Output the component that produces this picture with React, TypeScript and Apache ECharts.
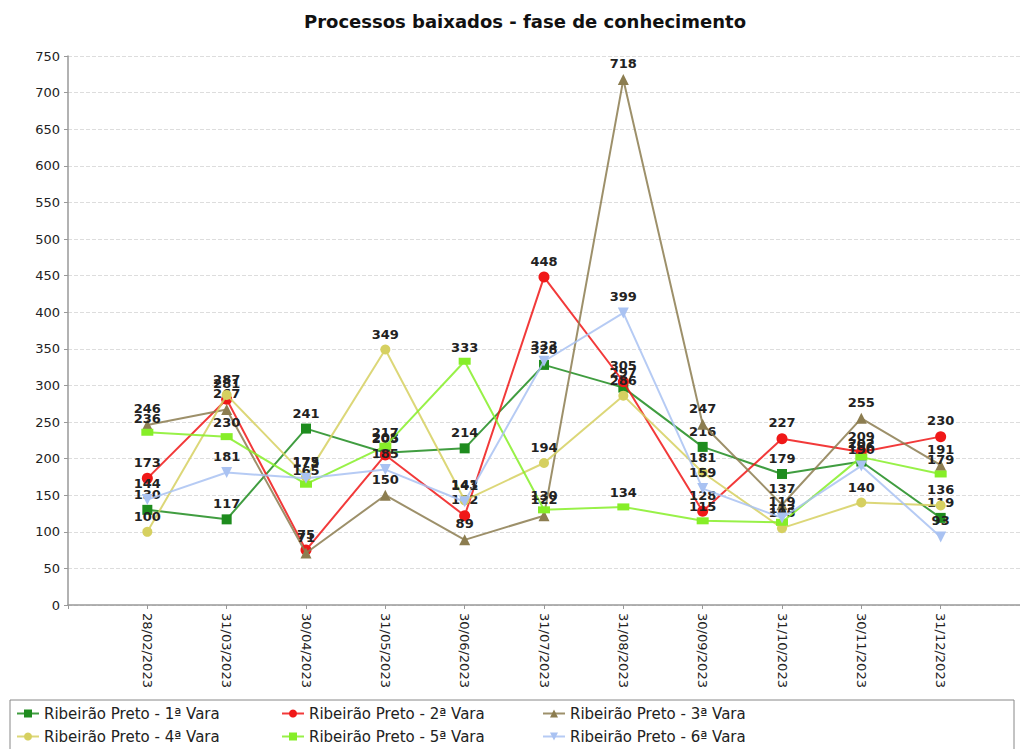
import React, { useEffect, useRef } from "react";
import * as echarts from "echarts";

const dates = ["28/02/2023", "31/03/2023", "30/04/2023", "31/05/2023", "30/06/2023", "31/07/2023", "31/08/2023", "30/09/2023", "31/10/2023", "30/11/2023", "31/12/2023"];
const vara1 = [130, 117, 241, 208, 214, 328, 297, 216, 179, 196, 119];
const vara2 = [173, 281, 75, 205, 122, 448, 305, 128, 227, 209, 230];
const vara3 = [246, 267, 71, 150, 89, 122, 718, 247, 137, 255, 191];
const vara4 = [100, 287, 175, 349, 143, 194, 286, 181, 105, 140, 136];
const vara5 = [236, 230, 165, 217, 333, 130, 134, 115, 113, 202, 179];
const vara6 = [144, 181, 173, 185, 141, 333, 399, 159, 119, 190, 93];
const names = [
  "Ribeirão Preto - 1ª Vara",
  "Ribeirão Preto - 2ª Vara",
  "Ribeirão Preto - 3ª Vara",
  "Ribeirão Preto - 4ª Vara",
  "Ribeirão Preto - 5ª Vara",
  "Ribeirão Preto - 6ª Vara",
];
const yTicks = { min: 0, max: 750, interval: 50 };

const FONT = "DejaVu Sans";

export default function App() {
  const ref = useRef<HTMLDivElement>(null);
  useEffect(() => {
    const chart = echarts.init(ref.current!, undefined, { renderer: "svg" });
    const allData = [vara1, vara2, vara3, vara4, vara5, vara6];
    const colors = ["#1e8c1e", "#f01818", "#8c7d50", "#d6d060", "#86ee28", "#a9c2f2"];
    const symbols: any[] = ["rect", "circle", "triangle", "circle", "rect", "triangle"];
    const sizes: any[] = [10, 11, 11, 10, [12, 7], 11];
    const rotates = [0, 0, 0, 0, 0, 180];
    const series = allData.map((d, i) => ({
      name: names[i],
      type: "line",
      data: d.map((v, j) => [j, v]),
      symbol: symbols[i],
      symbolSize: sizes[i],
      symbolRotate: rotates[i],
      lineStyle: { width: 2, color: colors[i], opacity: 0.85 },
      itemStyle: { color: colors[i] },
      label: {
        show: true,
        position: "top",
        distance: 4,
        fontSize: 13,
        fontWeight: "bold",
        fontFamily: FONT,
        color: "#222",
      },
      z: 2 + i,
    }));
    const legendPos = [
      [14, 704],
      [279, 704],
      [540, 704],
      [14, 727],
      [279, 727],
      [540, 727],
    ];
    const legends = names.map((n, i) => ({
      data: [n],
      left: legendPos[i][0],
      top: legendPos[i][1],
      padding: 2,
      itemWidth: 22,
      itemHeight: 10,
      itemGap: 5,
      textStyle: { fontSize: 15, fontFamily: FONT, color: "#222" },
      selectedMode: false,
    }));
    chart.setOption({
      animation: false,
      backgroundColor: "#fff",
      color: colors,
      title: {
        text: "Processos baixados - fase de conhecimento",
        left: 520,
        top: 7,
        textAlign: "center",
        textStyle: { fontSize: 18, fontWeight: "bold", fontFamily: FONT, color: "#111" },
      },
      legend: legends,
      grid: { left: 68, right: 0, top: 56, bottom: 144, containLabel: false },
      xAxis: {
        type: "value",
        min: -1,
        max: 11,
        interval: 1,
        axisLine: { show: true, onZero: false, lineStyle: { color: "#999", width: 1.5 } },
        axisTick: { show: true, length: 4, lineStyle: { color: "#999" } },
        splitLine: { show: false },
        axisLabel: {
          rotate: -90,
          fontSize: 13,
          fontFamily: FONT,
          color: "#222",
          margin: 8,
          formatter: (v: number) => (v >= 0 && v < dates.length && Number.isInteger(v) ? dates[v] : ""),
        },
      },
      yAxis: {
        type: "value",
        min: yTicks.min,
        max: yTicks.max,
        interval: yTicks.interval,
        axisLine: { show: true, onZero: false, lineStyle: { color: "#999", width: 1.5 } },
        axisTick: { show: true, length: 4, lineStyle: { color: "#999" } },
        splitLine: { show: true, lineStyle: { type: "dashed", color: "#ddd" } },
        axisLabel: { fontSize: 13, fontFamily: FONT, color: "#222", margin: 8 },
      },
      graphic: [
        {
          type: "rect",
          shape: { x: 10, y: 700, width: 1004, height: 60 },
          style: { fill: "none", stroke: "#888", lineWidth: 1 },
          z: -1,
        },
      ],
      series,
    });
    return () => chart.dispose();
  }, []);
  return (
    <div
      ref={ref}
      style={{ position: "fixed", left: 0, top: 0, width: 1020, height: 749, background: "#fff" }}
    />
  );
}
